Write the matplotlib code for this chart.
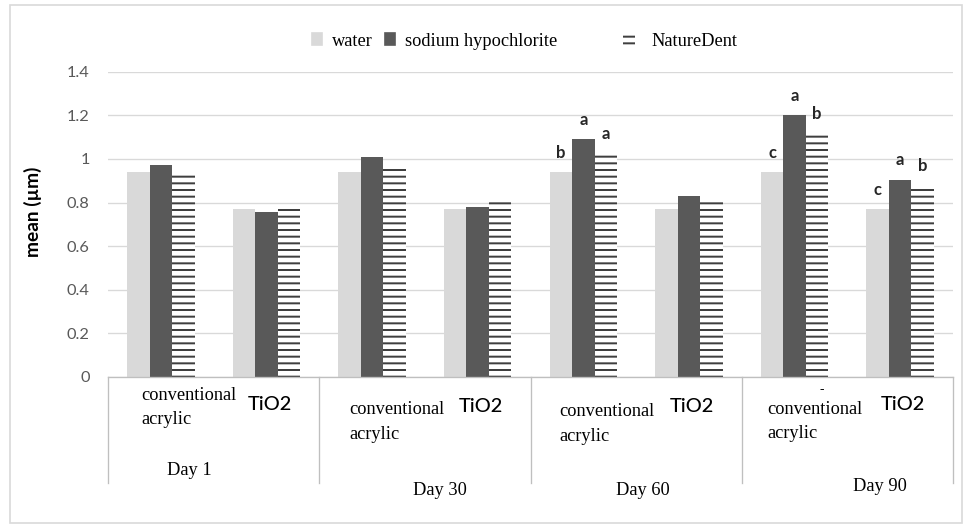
import matplotlib
matplotlib.use("Agg")
import matplotlib.pyplot as plt
from matplotlib.patches import Patch, Rectangle
import numpy as np

# values
days = ["Day 1", "Day 30", "Day 60", "Day 90"]
materials = ["conventional\nacrylic", "TiO2"]
series = ["water", "sodium hypochlorite", "NatureDent"]

water = [0.94, 0.77, 0.94, 0.77, 0.94, 0.77, 0.94, 0.77]
sodium = [0.97, 0.755, 1.01, 0.78, 1.09, 0.83, 1.20, 0.905]
nature = [0.94, 0.79, 0.965, 0.82, 1.025, 0.82, 1.12, 0.88]

water_sig = ["", "", "", "", "b", "", "c", "c"]
sodium_sig = ["", "", "", "", "a", "", "a", "a"]
nature_sig = ["", "", "", "", "a", "", "b", "b"]

yticks = [0, 0.2, 0.4, 0.6, 0.8, 1, 1.2, 1.4]

plt.rcParams["hatch.linewidth"] = 1.2
plt.rcParams["hatch.color"] = "#3f3f3f"

W, H, DPI = 972, 529, 120
fig = plt.figure(figsize=(W / DPI, H / DPI), dpi=DPI)
ax = fig.add_axes([108 / W, 1 - 377 / H, 845 / W, 305.3 / H])


def ay(px):
    # figure pixel row -> axes fraction
    return (377 - px) / 305.3


x = np.arange(len(water))
bw = 0.213
ax.bar(x - bw, water, bw, color="#d9d9d9", zorder=2)
ax.bar(x, sodium, bw, color="#595959", zorder=2)
ax.bar(x + bw, nature, bw, color="white", edgecolor="#3f3f3f", linewidth=0,
       hatch="---", zorder=2)

for off, vals, sig in [(-bw, water, water_sig), (0, sodium, sodium_sig),
                       (bw, nature, nature_sig)]:
    for i, (v, s) in enumerate(zip(vals, sig)):
        if s:
            ax.annotate(s, (i + off, v), xytext=(0, 11.5), textcoords="offset points",
                        ha="center", va="center", fontsize=10, fontweight="bold",
                        family="Lato", color="#262626")

ax.set_xlim(-0.5, 7.5)
ax.set_ylim(0, 1.4)
ax.set_yticks(yticks)
ax.set_yticklabels([f"{t:g}" for t in yticks], family="Lato", fontsize=9.8,
                   color="#595959")
ax.tick_params(axis="y", length=0, pad=11)
ax.tick_params(axis="x", length=0, labelbottom=False)
ax.grid(axis="y", color="#d9d9d9", linewidth=0.8, zorder=0)
for s in ["top", "right", "left"]:
    ax.spines[s].set_visible(False)
ax.spines["bottom"].set_color("#bfbfbf")
ax.spines["bottom"].set_linewidth(0.8)

ax.set_ylabel("mean (µm)", family="Lato", fontweight="bold", fontsize=11.5)
ax.yaxis.set_label_coords(-0.078, 0.54)

# category table under the axis
tr = ax.get_xaxis_transform()
for b in np.arange(-0.5, 8, 2):
    ax.plot([b, b], [0, ay(483)], transform=tr, color="#bfbfbf", lw=0.8,
            clip_on=False)

conv_dx = [-0.188, -0.218, -0.230, -0.261]
conv_y = [395, 410, 412, 409]
tio_y = [405, 407, 407, 405]
day_dx = [-0.233, 0.143, 0.065, 0.309]
day_y = [470, 490, 490, 486]
serif = "Liberation Serif"
for d, day in enumerate(days):
    c = 2 * d
    line1, line2 = materials[0].split("\n")
    ax.text(c + conv_dx[d], ay(conv_y[d]), line1, transform=tr, ha="left",
            va="center", family=serif, fontsize=11)
    ax.text(c + conv_dx[d], ay(conv_y[d] + 24.5), line2, transform=tr, ha="left",
            va="center", family=serif, fontsize=11)
    ax.text(c + 1 + 0.03, ay(tio_y[d]), materials[1], transform=tr, ha="center",
            va="center", family="Lato", fontsize=12, fontweight="medium")
    ax.text(c + 0.5 + day_dx[d], ay(day_y[d]), day, transform=tr, ha="center",
            va="center", family=serif, fontsize=11)
# small stray dash above the Day 90 label
ax.text(6 + 0.26, ay(390), "-", transform=tr, ha="center", va="center",
        fontsize=8, family=serif)

# legend
h1 = [Patch(color="#d9d9d9"), Patch(color="#595959")]
leg1 = fig.legend(h1, series[:2], loc="center left",
                  bbox_to_anchor=(312 / W, 1 - 41 / H), ncol=2, frameon=False,
                  prop={"family": serif, "size": 11}, handlelength=0.55,
                  handleheight=0.55, handletextpad=0.55, columnspacing=0.65,
                  borderpad=0, borderaxespad=0)
h2 = [Patch(facecolor="white", edgecolor="#3f3f3f", linewidth=0, hatch="---")]
fig.legend(h2, series[2:], loc="center left", bbox_to_anchor=(623 / W, 1 - 41 / H),
           frameon=False, prop={"family": serif, "size": 11}, handlelength=0.65,
           handleheight=0.6, handletextpad=0.9, borderpad=0, borderaxespad=0)

fig.patches.append(Rectangle((10 / W, 1 - 523 / H), 952 / W, 518 / H,
                             transform=fig.transFigure, fill=False,
                             ec="#d9d9d9", lw=1))

fig.savefig("out.png", dpi=DPI)
